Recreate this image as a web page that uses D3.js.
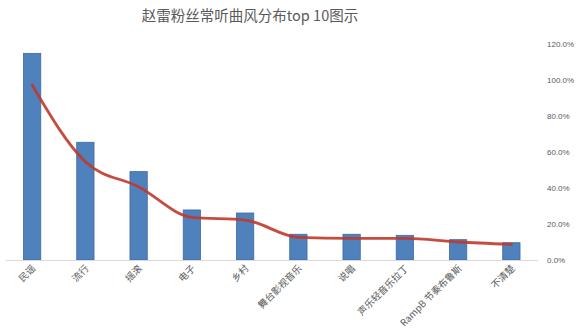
<!DOCTYPE html>
<html>
<head>
<meta charset="utf-8">
<script src="https://cdn.jsdelivr.net/npm/d3@7"></script>
<style>
  html, body { margin: 0; padding: 0; background: #fff; }
  svg { display: block; font-family: "Noto Sans CJK SC", "Noto Sans", sans-serif; }
</style>
</head>
<body>
<svg id="chart" width="580" height="333"></svg>
<script>
// Genre categories, in descending order of share
const categories = ["民谣", "流行", "摇滚", "电子", "乡村", "舞台影视音乐", "说唱", "声乐轻音乐拉丁", "RampB 节奏布鲁斯", "不清楚"];
// Bar series (share of fans, %)
const barValues = [114.8, 65.4, 49.1, 27.8, 26.1, 14.3, 14.3, 13.7, 11.3, 9.6];
// Trend line series (%)
const lineValues = [97.2, 54.6, 40.7, 23.7, 22.2, 12.6, 12.0, 12.0, 10.0, 8.7];
// Right axis ticks (%)
const percentTicks = [0, 20, 40, 60, 80, 100, 120];

const svg = d3.select("#chart");
const plot = { left: 5.5, right: 538, top: 44, bottom: 260 };

const x = d3.scaleBand()
  .domain(categories)
  .range([plot.left, plot.right])
  .paddingInner(0.675)
  .paddingOuter(0.3375);

const y = d3.scaleLinear()
  .domain([0, 120])
  .range([plot.bottom, plot.top]);

// Title
svg.append("text")
  .attr("x", 250)
  .attr("y", 21)
  .attr("text-anchor", "middle")
  .attr("font-size", 14.5)
  .attr("fill", "#595959")
  .text("赵雷粉丝常听曲风分布top 10图示");

// Bars
svg.append("g").selectAll("rect")
  .data(barValues)
  .join("rect")
  .attr("x", (d, i) => x(categories[i]))
  .attr("y", d => y(d))
  .attr("width", x.bandwidth())
  .attr("height", d => y(0) - y(d))
  .attr("fill", "#4f81bd")
  .attr("stroke", "#3a6aa6")
  .attr("stroke-width", 0.8);

// Category axis baseline
svg.append("line")
  .attr("x1", plot.left).attr("x2", plot.right)
  .attr("y1", y(0) + 0.5).attr("y2", y(0) + 0.5)
  .attr("stroke", "#d9d9d9")
  .attr("stroke-width", 1);

// Category labels, rotated
svg.append("g").selectAll("text")
  .data(categories)
  .join("text")
  .attr("transform", d => `translate(${x(d) + x.bandwidth() / 2 + 4},${y(0) + 9}) rotate(-45)`)
  .attr("text-anchor", "end")
  .attr("font-size", 9.5)
  .attr("fill", "#595959")
  .text(d => d);

// Right percentage axis (labels only)
const yAxis = d3.axisRight(y)
  .tickValues(percentTicks)
  .tickSize(0)
  .tickPadding(0)
  .tickFormat(d => d3.format(".1f")(d) + "%");

const axisG = svg.append("g")
  .attr("transform", `translate(547,0)`)
  .call(yAxis);
axisG.select(".domain").remove();
axisG.selectAll("text")
  .attr("font-size", 8)
  .attr("fill", "#595959")
  .attr("font-family", "'Liberation Sans', Arial, sans-serif");

// Smoothed trend line
const line = d3.line()
  .x((d, i) => x(categories[i]) + x.bandwidth() / 2)
  .y(d => y(d))
  .curve(d3.curveMonotoneX);

svg.append("path")
  .datum(lineValues)
  .attr("d", line)
  .attr("fill", "none")
  .attr("stroke", "#c0392b")
  .attr("stroke-opacity", 0.9)
  .attr("stroke-width", 2.8)
  .attr("stroke-linejoin", "round")
  .attr("stroke-linecap", "round");
</script>
</body>
</html>
